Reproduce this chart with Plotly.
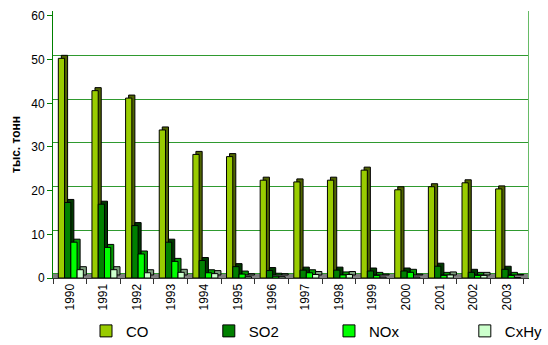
import plotly.graph_objects as go

# Emissions by year, thousand tonnes
years = [str(y) for y in range(1990, 2004)]
co = [50.3, 42.9, 41.2, 33.9, 28.3, 27.8, 22.4, 22.0, 22.4, 24.7, 20.2, 20.9, 21.8, 20.4]
so2 = [17.3, 16.9, 12.0, 8.2, 4.0, 2.6, 1.7, 1.8, 1.8, 1.6, 1.6, 2.7, 1.3, 2.0]
nox = [8.2, 7.0, 5.5, 3.8, 1.2, 0.9, 0.4, 1.2, 0.7, 0.6, 1.3, 0.6, 0.6, 0.6]
cxhy = [1.9, 1.9, 1.2, 1.3, 1.0, 0.3, 0.3, 0.8, 0.8, 0.2, 0.2, 0.7, 0.6, 0.1]

series = [
    ("CO", co, "#99CC00", "#4f6400"),
    ("SO2", so2, "#008000", "#003a00"),
    ("NOx", nox, "#00FF00", "#009a00"),
    ("CxHy", cxhy, "#CCFFCC", "#7f9f7f"),
]
legend_ids = ["legend", "legend2", "legend3", "legend4"]
legend_x = [0.0695, 0.328, 0.581, 0.867]

FONT = "Liberation Sans, Arial, sans-serif"
bar_w = 0.186          # width of one bar in category units
first_off = -0.342     # left edge of the first bar relative to category centre
depth_x = 0.09         # pseudo-3D depth, category units
depth_y = 0.69         # pseudo-3D depth, data units

fig = go.Figure()
for i, (name, vals, face, side) in enumerate(series):
    off = first_off + i * bar_w
    # depth block behind the front face
    fig.add_trace(go.Bar(
        x=years, y=vals, base=depth_y, offset=off + depth_x, width=bar_w,
        marker=dict(color=side, line=dict(color="black", width=1)),
        showlegend=False, hoverinfo="skip",
    ))
    # front face
    fig.add_trace(go.Bar(
        x=years, y=vals, offset=off, width=bar_w, name=name,
        legend=legend_ids[i],
        marker=dict(color=face, line=dict(color="black", width=1)),
    ))

# back-wall gridlines, raised by the depth of the floor
fig.add_trace(go.Scatter(x=[years[0]], y=[0], yaxis="y2", mode="markers",
                         marker=dict(opacity=0), showlegend=False, hoverinfo="skip"))

fig.add_shape(type="rect", xref="x domain", yref="y", x0=0, x1=1, y0=0, y1=depth_y + 0.23,
              fillcolor="#808080", line=dict(width=0), layer="below")

ymax = 61.14
legend_common = dict(orientation="h", xanchor="left", y=-0.199, yanchor="middle",
                     font=dict(size=15), bgcolor="rgba(0,0,0,0)")
legends = {lid: dict(legend_common, x=lx) for lid, lx in zip(legend_ids, legend_x)}

fig.update_layout(
    width=548, height=345, autosize=False,
    margin=dict(l=53, r=20, t=11, b=67, autoexpand=False),
    paper_bgcolor="white", plot_bgcolor="white",
    barmode="overlay",
    font=dict(family=FONT, size=12, color="black"),
    xaxis=dict(
        type="category", range=[-0.5, 13.62],
        tickangle=-90, tickson="boundaries", ticks="outside", ticklen=5,
        tickcolor="#333333", showline=True, linecolor="#333333", linewidth=1,
        showgrid=False, tickfont=dict(size=12),
    ),
    yaxis=dict(
        range=[0, ymax], tickvals=[0, 10, 20, 30, 40, 50, 60],
        ticks="outside", ticklen=5, tickcolor="#008000",
        showline=True, linecolor="#008000", linewidth=1,
        showgrid=False, zeroline=False, tickfont=dict(size=12),
        title=dict(text="<b>тыс. тонн</b>", font=dict(size=12), standoff=8),
    ),
    yaxis2=dict(
        overlaying="y", side="right", range=[-0.92, ymax - 0.92],
        tickvals=[0, 10, 20, 30, 40, 50, 60], showticklabels=False, ticks="",
        showgrid=True, gridcolor="#2f9a2f", gridwidth=1, zeroline=False,
        showline=True, linecolor="#66bb66", linewidth=1,
    ),
    **legends,
)

fig.write_html("out.html", config={"displayModeBar": False})
